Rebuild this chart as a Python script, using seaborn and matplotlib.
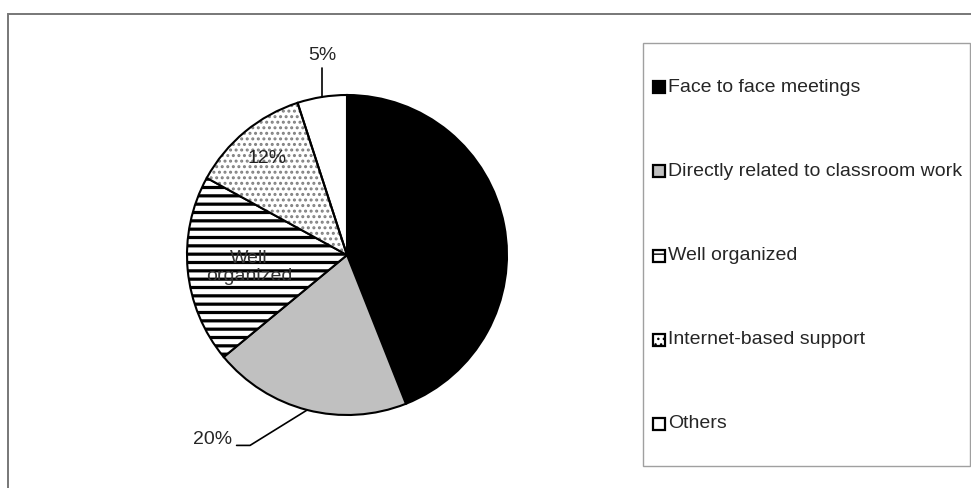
import matplotlib
matplotlib.use("Agg")
import matplotlib.pyplot as plt
import seaborn as sns
import numpy as np
from matplotlib.patches import Rectangle, Wedge

# Survey shares per category (percent)
categories = ["Face to face meetings", "Directly related to classroom work",
              "Well organized", "Internet-based support", "Others"]
shares = [44, 20, 19, 12, 5]
slice_labels = [None, "20%", "Well\norganized", "12%", "5%"]

# Fills and hatch patterns per slice
face_colors = ["#000000", "#c0c0c0", "#ffffff", "#ffffff", "#ffffff"]
hatch_styles = [None, None, "--", "...", None]
hatch_colors = ["#000000", "#000000", "#000000", "#808080", "#000000"]
hatch_widths = [1.0, 1.0, 2.3, 1.4, 1.0]

sns.set_theme(style="white")
plt.rcParams["font.family"] = ["Liberation Sans", "DejaVu Sans"]

W, H = 971, 488
fig = plt.figure(figsize=(W / 100, H / 100), dpi=100)
fig.patch.set_facecolor("white")


def px_rect(x0, y0, x1, y1):
    """Pixel box with top-left origin -> figure-fraction rectangle."""
    return [x0 / W, 1 - y1 / H, (x1 - x0) / W, (y1 - y0) / H]


# Outer chart frame
fig.add_artist(Rectangle((8 / W, 1 - 495 / H), 970 / W, 481 / H,
                         transform=fig.transFigure, fill=False,
                         edgecolor="#777777", linewidth=1.4))

# Pie axes
cx, cy, R, half = 347, 255, 160, 175
ax = fig.add_axes(px_rect(cx - half, cy - half, cx + half, cy + half))
wedges, _ = ax.pie(shares, colors=face_colors, startangle=90,
                   counterclock=False, radius=1,
                   wedgeprops=dict(edgecolor="black", linewidth=1.5))
lim = half / R
ax.set_xlim(-lim, lim)
ax.set_ylim(-lim, lim)
ax.set_aspect("equal")
ax.axis("off")

for w, hs, hc, hw in zip(wedges, hatch_styles, hatch_colors, hatch_widths):
    if hs is None:
        continue
    w.set_hatch(hs)
    if hasattr(w, "set_hatch_linewidth"):
        w.set_hatch_linewidth(hw)
    if hc != "#000000":
        # hatch takes the edge colour; redraw the black outline on top
        w.set_edgecolor(hc)
        w.set_linewidth(0)
        ax.add_patch(Wedge(w.center, w.r, w.theta1, w.theta2, fill=False,
                           edgecolor="black", linewidth=1.5, zorder=w.get_zorder() + 0.1))

FS = 14
for w, lab in zip(wedges, slice_labels):
    if lab is None:
        continue
    mid = np.deg2rad((w.theta1 + w.theta2) / 2)
    ex, ey = np.cos(mid), np.sin(mid)
    if lab == "5%":
        ax.plot([ex, ex], [ey, 1.17], color="black", lw=1.2, clip_on=False)
        ax.text(ex, 1.25, lab, ha="center", va="center", fontsize=FS, clip_on=False)
    elif lab == "20%":
        ax.plot([ex, -0.606, -0.69], [ey, -1.19, -1.19], color="black", lw=1.2, clip_on=False)
        ax.text(-0.715, -1.15, lab, ha="right", va="center", fontsize=FS, clip_on=False)
    elif lab == "12%":
        ax.text(0.78 * ex, 0.78 * ey, lab, ha="center", va="center", fontsize=FS, color="#222222")
    else:
        ax.text(0.615 * ex, 0.615 * ey - 0.02, lab, ha="center", va="center",
                fontsize=FS, color="#333333", linespacing=1.1)

# Legend panel
fig.add_artist(Rectangle((643 / W, 1 - 466 / H), 327 / W, 423 / H,
                         transform=fig.transFigure, fill=False,
                         edgecolor="#a0a0a0", linewidth=1.0))
y0, dy = 87, 84.25
for i, (name, fc, hs, hc, hw) in enumerate(zip(categories, face_colors, hatch_styles,
                                                hatch_colors, hatch_widths)):
    yc = y0 + i * dy
    sq = Rectangle((653 / W, 1 - (yc + 6) / H), 12 / W, 12 / H,
                   transform=fig.transFigure, facecolor=fc, edgecolor="black",
                   linewidth=1.6, hatch=hs)
    fig.add_artist(sq)
    fig.text(668 / W, 1 - yc / H, name, ha="left", va="center", fontsize=FS)

fig.savefig("out.png", dpi=100, facecolor="white")
